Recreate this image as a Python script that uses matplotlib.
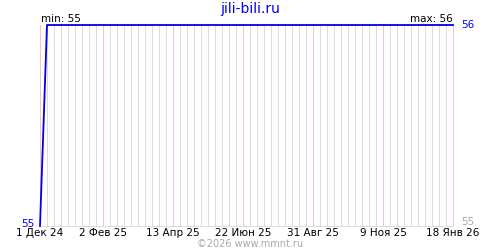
import matplotlib
matplotlib.use("Agg")
import matplotlib.pyplot as plt
import matplotlib.dates as mdates
import numpy as np
from datetime import datetime

# Data
dates = ["2024-12-01", "2024-12-08", "2026-01-18"]
values = [55, 56, 56]
tick_dates = ["2024-12-01", "2025-02-02", "2025-04-13", "2025-06-22",
              "2025-08-31", "2025-11-09", "2026-01-18"]
tick_labels = ["1 Дек 24", "2 Фев 25", "13 Апр 25", "22 Июн 25",
               "31 Авг 25", "9 Ноя 25", "18 Янв 26"]
y_min_val, y_max_val = 55, 56
title = "jili-bili.ru"
footer = "©2026 www.mmnt.ru"

plt.rcParams['font.family'] = ['DejaVu Sans']

W, H = 500, 250
fig = plt.figure(figsize=(W / 100, H / 100), dpi=100)
left, right, top, bottom = 40, 453, 25, 226
ax = fig.add_axes([left / W, (H - bottom) / H, (right - left) / W, (bottom - top) / H])

x = [mdates.date2num(datetime.strptime(d, "%Y-%m-%d")) for d in dates]
xt = [mdates.date2num(datetime.strptime(d, "%Y-%m-%d")) for d in tick_dates]

x0, x1 = xt[0], xt[-1]
ax.set_xlim(x0, x1)
ax.set_ylim(y_min_val, y_max_val)

px = 72 / 100  # one pixel in points

# weekly grid
for wx in np.arange(x0, x1 + 0.5, 7):
    c = "#ffc0c0" if any(abs(wx - t) < 0.5 for t in xt) else "#dcdcdc"
    ax.axvline(wx, color=c, lw=px, zorder=1, antialiased=False, clip_on=False)
ax.axhline(y_min_val, color="#dcdcdc", lw=px, zorder=1, antialiased=False, clip_on=False)

ax.plot(x, values, color="#0000ee", lw=1.3, zorder=3, clip_on=False)

for s in ax.spines.values():
    s.set_visible(False)
ax.set_xticks(xt)
ax.set_xticklabels(tick_labels, fontsize=7.5)
ax.tick_params(axis="x", length=0, pad=1.5)
ax.set_yticks([])

fs = 7.5
fig.text(250 / W, 1 - 9 / H, title, color="#0000ee", fontsize=10, ha="center", va="center")
fig.text(41 / W, 1 - 19 / H, f"min: {y_min_val}", fontsize=fs, ha="left", va="center", color="black")
fig.text(453 / W, 1 - 19 / H, f"max: {y_max_val}", fontsize=fs, ha="right", va="center", color="black")
fig.text(461 / W, 1 - 25 / H, f"{y_max_val}", fontsize=fs, ha="left", va="center", color="#0000ee")
fig.text(34 / W, 1 - 224 / H, f"{y_min_val}", fontsize=fs, ha="right", va="center", color="#0000ee")
fig.text(461 / W, 1 - 222 / H, f"{y_min_val}", fontsize=fs, ha="left", va="center", color="#aaaaaa")
fig.text(250 / W, 1 - 244 / H, footer, fontsize=7, ha="center", va="center", color="#aaaaaa")

fig.savefig("out.png", dpi=100, facecolor="white")
